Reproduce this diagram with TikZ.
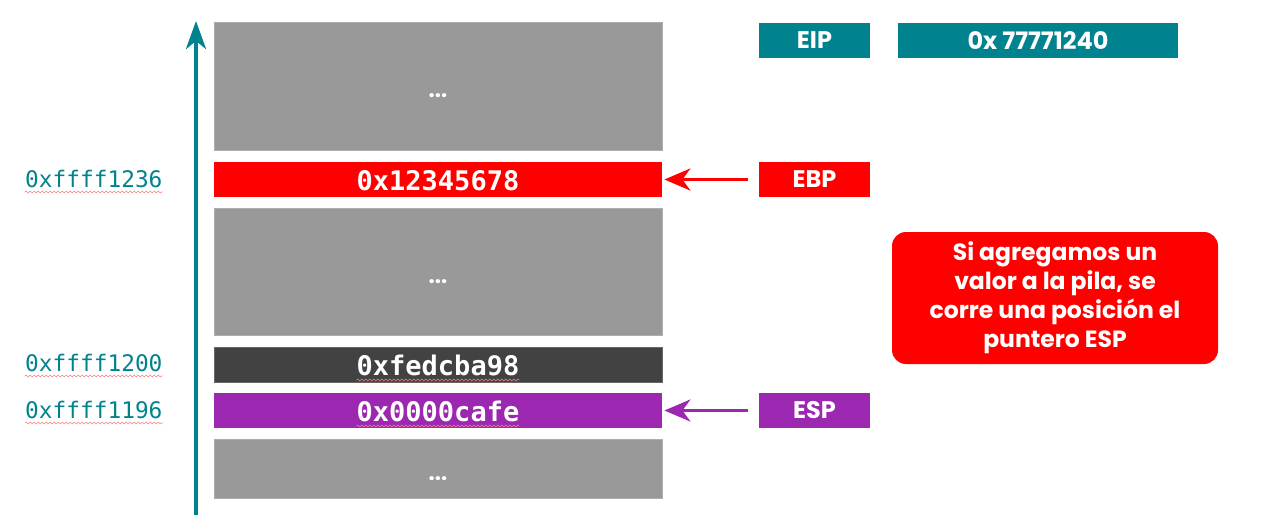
\documentclass[tikz,border=0pt]{standalone}
\usepackage{fontspec}
\newfontfamily\popf{Poppins}
\newfontfamily\monof{DejaVu Sans Mono}
\usetikzlibrary{arrows.meta,decorations.pathmorphing}
\definecolor{tealc}{HTML}{00838F}
\definecolor{cellgray}{HTML}{999999}
\definecolor{celldark}{HTML}{424242}
\definecolor{cellred}{HTML}{FF0000}
\definecolor{cellpurple}{HTML}{9C27B0}
\definecolor{squig}{HTML}{F08080}
\tikzset{
  cell/.style={minimum width=448pt, inner sep=0pt, draw=#1!80!white, line width=0.8pt, fill=#1, text=white},
  regbox/.style={minimum height=35pt, inner sep=0pt, fill=#1, text=white, font=\popf\bfseries\fontsize{24}{26}\selectfont},
  addr/.style={inner sep=0pt, text=tealc, font=\monof\fontsize{22.8}{24}\selectfont},
  val/.style={inner sep=0pt, text=white, font=\monof\bfseries\fontsize{27}{28}\selectfont},
  dots/.style={inner sep=0pt, anchor=base, text=white, font=\popf\bfseries\fontsize{22}{24}\selectfont},
  squiggle/.style={draw=squig, line width=0.6pt, decorate, decoration={snake, segment length=4pt, amplitude=0.9pt}},
  ptr/.style={line width=3pt, -{Stealth[length=26pt,width=22pt,inset=8pt]}},
}
\begin{document}
\begin{tikzpicture}[x=1pt,y=-1pt]
\useasboundingbox (0,0) rectangle (1278,530);
% stack cells
\node[cell=cellgray, minimum height=128pt] (c1) at (438,86) {};
\node[dots] (d1) at (438,97) {...};
\node[cell=cellred, minimum height=35pt, draw=none] (c2) at (438,179.5) {};
\node[cell=cellgray, minimum height=127pt] (c3) at (438,271.5) {};
\node[dots] (d3) at (438,283) {...};
\node[cell=celldark, minimum height=35pt] (c4) at (438,364.5) {};
\node[cell=cellpurple, minimum height=35pt, draw=none] (c5) at (438,410.5) {};
\node[cell=cellgray, minimum height=59pt] (c6) at (438,468.5) {};
\node[dots] (d6) at (438,480) {...};
% values
\node[val, anchor=base] (v2) at (438,190) {0x12345678};
\node[val, anchor=base] (v4) at (438,375) {0xfedcba98};
\node[val, anchor=base] (v5) at (438,421) {0x0000cafe};
\draw[squiggle] ([yshift=-5pt]v4.base west) -- ([yshift=-5pt]v4.base east);
\draw[squiggle] ([yshift=-5pt]v5.base west) -- ([yshift=-5pt]v5.base east);
% addresses
\node[addr, anchor=base west] (a1) at (25,187) {0xffff1236};
\node[addr, anchor=base west] (a2) at (25,371) {0xffff1200};
\node[addr, anchor=base west] (a3) at (25,418) {0xffff1196};
\foreach \a in {a1,a2,a3}
  \draw[squiggle] ([yshift=-5pt]\a.base west) -- ([yshift=-5pt]\a.base east);
% growth arrow
\coordinate (gstart) at (196,515);
\coordinate (gend) at (196,21);
\draw[tealc, line width=4pt, -{Stealth[length=28pt,width=20pt,inset=8pt]}] (gstart) -- (gend);
% registers
\node[regbox=tealc, minimum width=111pt] (eip) at (814.5,40.5) {EIP};
\node[regbox=tealc, minimum width=280pt] (eipv) at (1038,40.5) {0x 77771240};
\node[regbox=cellred, minimum width=111pt] (ebp) at (814.5,179.5) {EBP};
\node[regbox=cellpurple, minimum width=111pt] (esp) at (814.5,410.5) {ESP};
\draw[ptr, cellred] ([xshift=-11pt]ebp.west) -- ([xshift=2pt]c2.east);
\draw[ptr, cellpurple] ([xshift=-11pt]esp.west) -- ([xshift=2pt]c5.east);
% callout
\node[fill=cellred, rounded corners=14pt, minimum width=326pt, minimum height=132pt, text=white,
      align=center, font=\popf\bfseries\fontsize{23.5}{29}\selectfont] (note) at (1055,298)
  {Si agregamos un\\valor a la pila, se\\corre una posición el\\puntero ESP};
\end{tikzpicture}
\end{document}
